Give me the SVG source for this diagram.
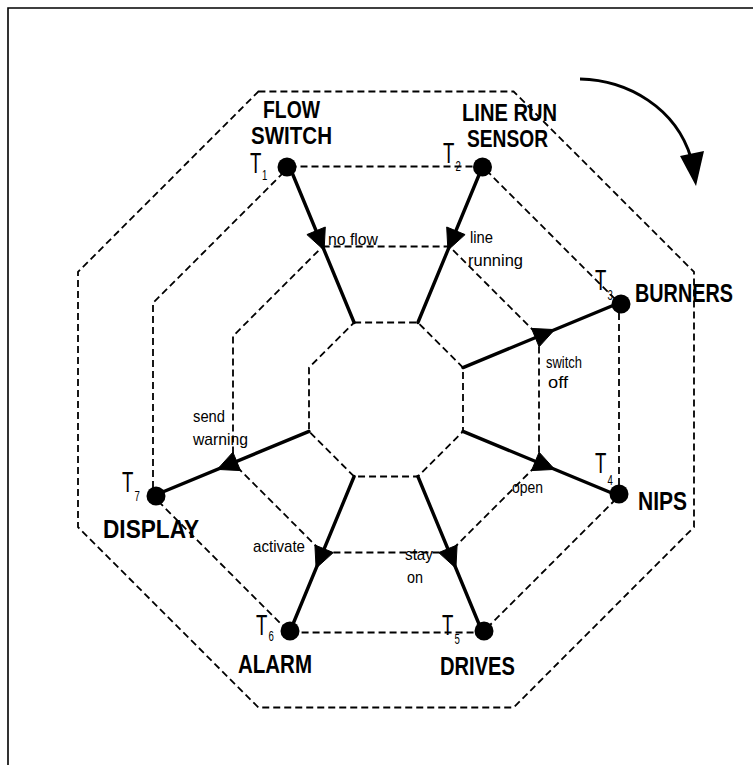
<svg xmlns="http://www.w3.org/2000/svg" width="753" height="765" viewBox="0 0 753 765">
<style>
.dash{fill:none;stroke:#000;stroke-width:1.8;stroke-dasharray:7 4}
.spoke{stroke:#000;stroke-width:3.4;fill:none;stroke-linecap:round}
.head{fill:#000;stroke:#000;stroke-width:1;stroke-linejoin:round}
.dot{fill:#000}
.lbl{font-family:"Liberation Sans",Arial,sans-serif;font-weight:bold;font-size:26px;fill:#000}
.lbl2{font-size:23px}
.t{font-family:"Liberation Sans",Arial,sans-serif;font-size:29px;fill:#000}
.sub{font-size:15px}
.sm{font-family:"Liberation Sans",Arial,sans-serif;font-size:17px;fill:#000}
</style>
<rect width="753" height="765" fill="#fff"/>
<path d="M8,765 V8 H753" fill="none" stroke="#000" stroke-width="1.6"/>
<g id="rotation-arrow">
<path d="M580,79 C628,80 676,108 691,158" fill="none" stroke="#000" stroke-width="3"/>
<polygon points="680,156 704,151 696,186" fill="#000"/>
</g>
<g id="rings">
<polygon class="dash" points="258.4,91.5 513.6,91.5 694,271.9 694,527.1 513.6,707.5 258.4,707.5 78,527.1 78,271.9"/>
<polygon class="dash" points="289.5,166.5 482.5,166.5 619,303 619,496 482.5,632.5 289.5,632.5 153,496 153,303"/>
<polygon class="dash" points="322.6,246.5 449.4,246.5 539,336.1 539,462.9 449.4,552.5 322.6,552.5 233,462.9 233,336.1"/>
</g>
<g id="center">
<polygon class="dash" points="354.1,322.5 417.9,322.5 463,367.6 463,431.4 417.9,476.5 354.1,476.5 309,431.4 309,367.6"/>
</g>
<g id="connectors">
<line class="spoke" x1="289.5" y1="166.5" x2="354.1" y2="322.5"/>
<line class="spoke" x1="482.5" y1="166.5" x2="417.9" y2="322.5"/>
<line class="spoke" x1="619" y1="303" x2="463" y2="367.6"/>
<line class="spoke" x1="619" y1="496" x2="463" y2="431.4"/>
<line class="spoke" x1="482.5" y1="632.5" x2="417.9" y2="476.5"/>
<line class="spoke" x1="289.5" y1="632.5" x2="354.1" y2="476.5"/>
<line class="spoke" x1="153" y1="496" x2="309" y2="431.4"/>
<polygon class="head" points="324.1,250.2 325.3,227 306.9,234.6"/>
<polygon class="head" points="447.9,250.2 465.1,234.6 446.7,227"/>
<polygon class="head" points="554.7,329.6 539.1,346.8 531.5,328.4"/>
<polygon class="head" points="554.7,469.4 531.5,470.6 539.1,452.2"/>
<polygon class="head" points="455.9,568.2 438.7,552.6 457.1,545"/>
<polygon class="head" points="316.1,568.2 314.9,545 333.3,552.6"/>
<polygon class="head" points="217.3,469.4 232.9,452.2 240.5,470.6"/>
<text class="sm" x="328" y="245" textLength="50" lengthAdjust="spacingAndGlyphs">no flow</text>
<text class="sm" x="470" y="243" textLength="23" lengthAdjust="spacingAndGlyphs">line</text>
<text class="sm" x="468" y="266" textLength="55" lengthAdjust="spacingAndGlyphs">running</text>
<text class="sm" x="546" y="368" textLength="36" lengthAdjust="spacingAndGlyphs">switch</text>
<text class="sm" x="548" y="388" textLength="20" lengthAdjust="spacingAndGlyphs">off</text>
<text class="sm" x="512" y="493" textLength="31" lengthAdjust="spacingAndGlyphs">open</text>
<text class="sm" x="405" y="560" textLength="28" lengthAdjust="spacingAndGlyphs">stay</text>
<text class="sm" x="407" y="583" textLength="16" lengthAdjust="spacingAndGlyphs">on</text>
<text class="sm" x="253" y="552" textLength="52" lengthAdjust="spacingAndGlyphs">activate</text>
<text class="sm" x="193" y="422" textLength="32" lengthAdjust="spacingAndGlyphs">send</text>
<text class="sm" x="193" y="445" textLength="55" lengthAdjust="spacingAndGlyphs">warning</text>
</g>
<g id="T1">
<circle class="dot" cx="287" cy="167" r="9.5"/>
<text class="lbl lbl2" x="263" y="118" textLength="57" lengthAdjust="spacingAndGlyphs">FLOW</text>
<text class="lbl lbl2" x="251" y="144" textLength="81" lengthAdjust="spacingAndGlyphs">SWITCH</text>
<text class="t" transform="translate(250,173) scale(0.64,1)">T<tspan class="sub" dx="1" dy="7">1</tspan></text>
</g>
<g id="T2">
<circle class="dot" cx="482.5" cy="167" r="9.5"/>
<text class="lbl lbl2" x="462" y="121" textLength="95" lengthAdjust="spacingAndGlyphs">LINE RUN</text>
<text class="lbl lbl2" x="467" y="147" textLength="81" lengthAdjust="spacingAndGlyphs">SENSOR</text>
<text class="t" transform="translate(443,163) scale(0.64,1)">T<tspan class="sub" dx="2" dy="8">2</tspan></text>
</g>
<g id="T3">
<circle class="dot" cx="621" cy="304" r="9.5"/>
<text class="lbl" x="635" y="302" textLength="98" lengthAdjust="spacingAndGlyphs">BURNERS</text>
<text class="t" transform="translate(595,290) scale(0.64,1)">T<tspan class="sub" dx="2" dy="10">3</tspan></text>
</g>
<g id="T4">
<circle class="dot" cx="619" cy="494" r="9.5"/>
<text class="lbl" x="638" y="510" textLength="49" lengthAdjust="spacingAndGlyphs">NIPS</text>
<text class="t" transform="translate(595,473) scale(0.64,1)">T<tspan class="sub" dx="2" dy="12">4</tspan></text>
</g>
<g id="T5">
<circle class="dot" cx="484" cy="631" r="9.5"/>
<text class="lbl" x="440" y="675" textLength="75" lengthAdjust="spacingAndGlyphs">DRIVES</text>
<text class="t" transform="translate(442,635) scale(0.64,1)">T<tspan class="sub" dx="2" dy="9">5</tspan></text>
</g>
<g id="T6">
<circle class="dot" cx="290" cy="631" r="9.5"/>
<text class="lbl" x="238" y="673" textLength="74" lengthAdjust="spacingAndGlyphs">ALARM</text>
<text class="t" transform="translate(256,635) scale(0.64,1)">T<tspan class="sub" dx="2" dy="6">6</tspan></text>
</g>
<g id="T7">
<circle class="dot" cx="156" cy="496" r="9.5"/>
<text class="lbl" x="103" y="538" textLength="96" lengthAdjust="spacingAndGlyphs">DISPLAY</text>
<text class="t" transform="translate(122,492) scale(0.64,1)">T<tspan class="sub" dx="2" dy="9">7</tspan></text>
</g>
</svg>
